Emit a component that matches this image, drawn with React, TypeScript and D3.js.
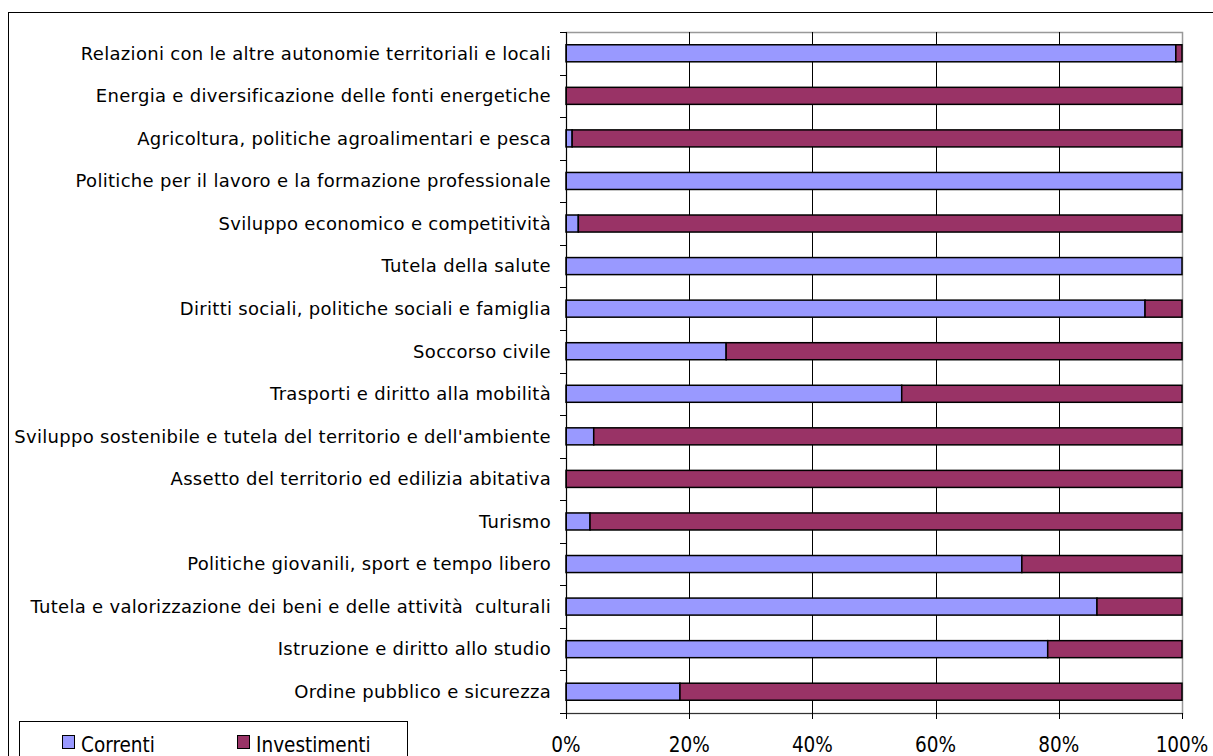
import React, { useEffect, useRef } from "react";
import * as d3 from "d3";

// Categories top to bottom
const categories = [
  "Relazioni con le altre autonomie territoriali e locali",
  "Energia e diversificazione delle fonti energetiche",
  "Agricoltura, politiche agroalimentari e pesca",
  "Politiche per il lavoro e la formazione professionale",
  "Sviluppo economico e competitività",
  "Tutela della salute",
  "Diritti sociali, politiche sociali e famiglia",
  "Soccorso civile",
  "Trasporti e diritto alla mobilità",
  "Sviluppo sostenibile e tutela del territorio e dell'ambiente",
  "Assetto del territorio ed edilizia abitativa",
  "Turismo",
  "Politiche giovanili, sport e tempo libero",
  "Tutela e valorizzazione dei beni e delle attività  culturali",
  "Istruzione e diritto allo studio",
  "Ordine pubblico e sicurezza",
];

// share (%) of each category
const correnti = [99, 0, 1, 100, 2, 100, 94, 26, 54.5, 4.5, 0, 3.9, 74, 86.2, 78.2, 18.5];
const investimenti = [1, 100, 99, 0, 98, 0, 6, 74, 45.5, 95.5, 100, 96.1, 26, 13.8, 21.8, 81.5];

const seriesNames = ["Correnti", "Investimenti"];
const seriesColors = ["#9999FF", "#993366"];
const xTicks = [0, 20, 40, 60, 80, 100];

const FONT = "'DejaVu Sans Condensed', 'DejaVu Sans', sans-serif";
const LABEL_FONT = "'DejaVu Sans', sans-serif";

const App: React.FC = () => {
  const chartRef = useRef<HTMLDivElement>(null);

  useEffect(() => {
    const width = 1213;
    const height = 756;
    const plot = { left: 566, right: 1182, top: 32, bottom: 713 };

    const svg = d3
      .select(chartRef.current)
      .append("svg")
      .attr("width", width)
      .attr("height", height)
      .style("display", "block");

    svg.append("rect").attr("width", width).attr("height", height).attr("fill", "#fff");

    // outer chart frame
    svg
      .append("rect")
      .attr("x", 8.5)
      .attr("y", 12.5)
      .attr("width", 1230)
      .attr("height", 780)
      .attr("fill", "none")
      .attr("stroke", "#000")
      .attr("stroke-width", 1);

    const x = d3.scaleLinear().domain([0, 100]).range([plot.left, plot.right]);
    const y = d3
      .scaleBand<string>()
      .domain(categories)
      .range([plot.top, plot.bottom])
      .paddingInner(0.6)
      .paddingOuter(0.3);

    // plot area border (grey)
    svg
      .append("rect")
      .attr("x", plot.left + 0.5)
      .attr("y", plot.top + 0.5)
      .attr("width", plot.right - plot.left)
      .attr("height", plot.bottom - plot.top)
      .attr("fill", "none")
      .attr("stroke", "#999")
      .attr("stroke-width", 1.5);

    // vertical gridlines
    svg
      .append("g")
      .selectAll("line")
      .data(xTicks.slice(1, -1))
      .join("line")
      .attr("x1", (d) => Math.round(x(d)) + 0.5)
      .attr("x2", (d) => Math.round(x(d)) + 0.5)
      .attr("y1", plot.top)
      .attr("y2", plot.bottom)
      .attr("stroke", "#000")
      .attr("stroke-width", 1);

    // stacked bars
    const stackData = categories.map((c, i) => ({ cat: c, Correnti: correnti[i], Investimenti: investimenti[i] }));
    const stack = d3.stack<any>().keys(seriesNames)(stackData);

    stack.forEach((layer, si) => {
      svg
        .append("g")
        .selectAll("rect")
        .data(layer.filter((d) => d[1] - d[0] > 0))
        .join("rect")
        .attr("x", (d) => x(d[0]))
        .attr("y", (d) => y(d.data.cat)!)
        .attr("width", (d) => x(d[1]) - x(d[0]))
        .attr("height", y.bandwidth())
        .attr("fill", seriesColors[si])
        .attr("stroke", "#000")
        .attr("stroke-width", 1.5);
    });

    // category axis
    const step = (plot.bottom - plot.top) / categories.length;
    svg
      .append("line")
      .attr("x1", plot.left + 0.5)
      .attr("x2", plot.left + 0.5)
      .attr("y1", plot.top)
      .attr("y2", plot.bottom + 6)
      .attr("stroke", "#000");
    svg
      .append("g")
      .selectAll("line")
      .data(d3.range(categories.length + 1))
      .join("line")
      .attr("x1", plot.left - 6)
      .attr("x2", plot.left)
      .attr("y1", (i) => Math.round(plot.top + i * step) + 0.5)
      .attr("y2", (i) => Math.round(plot.top + i * step) + 0.5)
      .attr("stroke", "#000");

    svg
      .append("g")
      .selectAll("text")
      .data(categories)
      .join("text")
      .attr("x", plot.left - 15)
      .attr("y", (d) => y(d)! + y.bandwidth() / 2)
      .attr("dy", "0.35em")
      .attr("text-anchor", "end")
      .attr("font-family", LABEL_FONT)
      .attr("font-size", 18)
      .attr("letter-spacing", 0.3)
      .attr("fill", "#000")
      .style("white-space", "pre")
      .text((d) => d);

    // value axis
    svg
      .append("line")
      .attr("x1", plot.left)
      .attr("x2", plot.right)
      .attr("y1", plot.bottom + 0.5)
      .attr("y2", plot.bottom + 0.5)
      .attr("stroke", "#333");
    svg
      .append("g")
      .selectAll("line")
      .data(xTicks)
      .join("line")
      .attr("x1", (d) => Math.round(x(d)) + 0.5)
      .attr("x2", (d) => Math.round(x(d)) + 0.5)
      .attr("y1", plot.bottom)
      .attr("y2", plot.bottom + 6)
      .attr("stroke", "#000");
    svg
      .append("g")
      .selectAll("text")
      .data(xTicks)
      .join("text")
      .attr("x", (d) => x(d))
      .attr("y", 752)
      .attr("text-anchor", "middle")
      .attr("font-family", FONT)
      .attr("font-size", 20.5)
      .attr("fill", "#000")
      .text((d) => `${d}%`);

    // legend
    const legend = svg.append("g");
    legend
      .append("rect")
      .attr("x", 19.5)
      .attr("y", 721.5)
      .attr("width", 388)
      .attr("height", 60)
      .attr("fill", "#fff")
      .attr("stroke", "#000");
    const legendX = [62, 237];
    seriesNames.forEach((name, i) => {
      legend
        .append("rect")
        .attr("x", legendX[i] + 0.5)
        .attr("y", 735.5)
        .attr("width", 12)
        .attr("height", 13)
        .attr("fill", seriesColors[i])
        .attr("stroke", "#000");
      legend
        .append("text")
        .attr("x", legendX[i] + 19)
        .attr("y", 752)
        .attr("font-family", FONT)
        .attr("font-size", 20.5)
        .attr("fill", "#000")
        .text(name);
    });

    return () => {
      d3.select(chartRef.current).select("svg").remove();
    };
  }, []);

  return <div ref={chartRef} style={{ position: "absolute", left: 0, top: 0 }}></div>;
};

export default App;
